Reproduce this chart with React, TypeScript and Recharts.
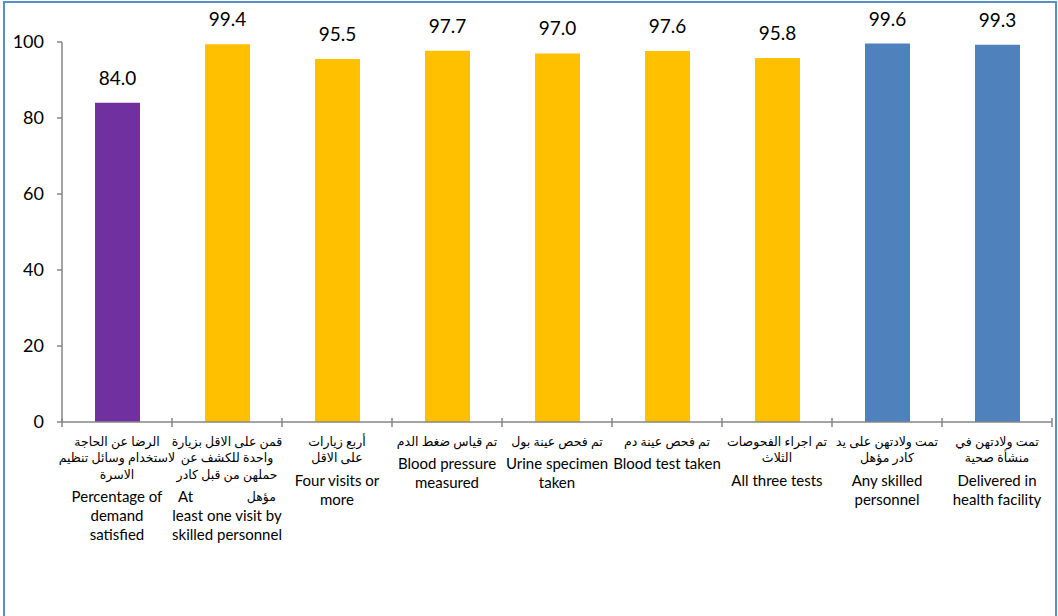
import React from "react";
import { BarChart, Bar, XAxis, YAxis, Cell, LabelList } from "recharts";

const CATEGORIES = [
  "demand",
  "oneVisit",
  "fourVisits",
  "bloodPressure",
  "urine",
  "bloodTest",
  "allTests",
  "skilled",
  "facility",
];

const VALUES = [84.0, 99.4, 95.5, 97.7, 97.0, 97.6, 95.8, 99.6, 99.3];

const AR_LABELS = [
  ["الرضا عن الحاجة", "لاستخدام وسائل تنظيم", "الاسرة"],
  ["قمن على الاقل بزيارة", "واحدة للكشف عن", "حملهن من قبل كادر"],
  ["أربع زيارات", "على الاقل"],
  ["تم قياس ضغط الدم"],
  ["تم فحص عينة بول"],
  ["تم فحص عينة دم"],
  ["تم اجراء الفحوصات", "الثلاث"],
  ["تمت ولادتهن على يد", "كادر مؤهل"],
  ["تمت ولادتهن في", "منشأة صحية"],
];

const EN_LABELS = [
  ["Percentage of", "demand", "satisfied"],
  ["At\u00A0\u00A0\u00A0\u00A0\u00A0\u00A0\u00A0\u00A0\u00A0\u00A0\u00A0\u00A0\u00A0\u00A0مؤهل", "least one visit by", "skilled personnel"],
  ["Four visits or", "more"],
  ["Blood pressure", "measured"],
  ["Urine specimen", "taken"],
  ["Blood test taken"],
  ["All three tests"],
  ["Any skilled", "personnel"],
  ["Delivered in", "health facility"],
];

const Y_TICKS = [0, 20, 40, 60, 80, 100];

const BAR_COLORS = [
  "#7030A0",
  "#FFC000",
  "#FFC000",
  "#FFC000",
  "#FFC000",
  "#FFC000",
  "#FFC000",
  "#4F81BD",
  "#4F81BD",
];

const data = CATEGORIES.map((c, i) => ({ name: c, value: VALUES[i] }));

const FONT = "Lato, 'DejaVu Sans', sans-serif";
const AXIS_GRAY = "#868686";
const BAND = 110;
const AR_SIZE = 12.5;
const EN_SIZE = 15;

// Arabic runs inside an English line get the smaller Arabic size
function segments(t: string) {
  return t.split(/([\u0600-\u06FF]+)/).filter((s) => s.length > 0);
}

function CategoryTick(props: any) {
  const { x, y, payload } = props;
  const i = payload.index;
  const ar = AR_LABELS[i];
  const en = EN_LABELS[i];
  const arY = (k: number) => y + 19 + k * 16.5;
  const enStart = arY(ar.length - 1) + 22;
  const isLast = i === CATEGORIES.length - 1;
  return (
    <g>
      <line x1={x - BAND / 2} x2={x - BAND / 2} y1={y - 4} y2={y + 5} stroke={AXIS_GRAY} strokeWidth={1.5} />
      {isLast && (
        <line x1={x + BAND / 2} x2={x + BAND / 2} y1={y - 4} y2={y + 5} stroke={AXIS_GRAY} strokeWidth={1.5} />
      )}
      {ar.map((t, k) => (
        <text
          key={"a" + k}
          x={x}
          y={arY(k)}
          textAnchor="middle"
          dominantBaseline="central"
          fill="#000"
          fontFamily={FONT}
          fontSize={AR_SIZE}
        >
          {t}
        </text>
      ))}
      {en.map((t, k) => (
        <text
          key={"e" + k}
          x={x}
          y={enStart + k * 19}
          textAnchor="middle"
          dominantBaseline="central"
          fill="#000"
          fontFamily={FONT}
          fontSize={EN_SIZE}
        >
          {segments(t).map((s, j) => (
            <tspan key={j} fontSize={/[\u0600-\u06FF]/.test(s) ? AR_SIZE : EN_SIZE}>
              {s}
            </tspan>
          ))}
        </text>
      ))}
    </g>
  );
}

export default function App() {
  return (
    <div style={{ position: "relative", width: 1058, height: 616, overflow: "hidden", background: "#fff" }}>
      <style>{"body{margin:0;}"}</style>
      <div
        style={{
          position: "absolute",
          left: 3,
          top: 1,
          width: 1050,
          height: 640,
          border: "2px solid #5B8DCB",
        }}
      />
      <div style={{ position: "absolute", left: 0, top: 0 }}>
        <BarChart
          width={1058}
          height={616}
          data={data}
          margin={{ top: 42, right: 6, left: 0, bottom: 0 }}
        >
          <XAxis
            dataKey="name"
            height={194}
            interval={0}
            tickSize={0}
            tickMargin={0}
            tickLine={false}
            axisLine={{ stroke: AXIS_GRAY, strokeWidth: 1.5 }}
            tick={<CategoryTick />}
          />
          <YAxis
            width={62}
            domain={[0, 100]}
            ticks={Y_TICKS}
            interval={0}
            tickSize={5}
            tickMargin={13}
            axisLine={{ stroke: AXIS_GRAY, strokeWidth: 1.5 }}
            tickLine={{ stroke: AXIS_GRAY, strokeWidth: 1.5 }}
            tick={{ fill: "#000", fontSize: 18, fontFamily: FONT }}
          />
          <Bar dataKey="value" barSize={45} isAnimationActive={false}>
            {data.map((d, i) => (
              <Cell key={d.name} fill={BAR_COLORS[i]} />
            ))}
            <LabelList
              dataKey="value"
              position="top"
              offset={18}
              formatter={(v: any) => Number(v).toFixed(1)}
              style={{ fill: "#000", fontSize: 19, fontFamily: FONT }}
            />
          </Bar>
        </BarChart>
      </div>
    </div>
  );
}
